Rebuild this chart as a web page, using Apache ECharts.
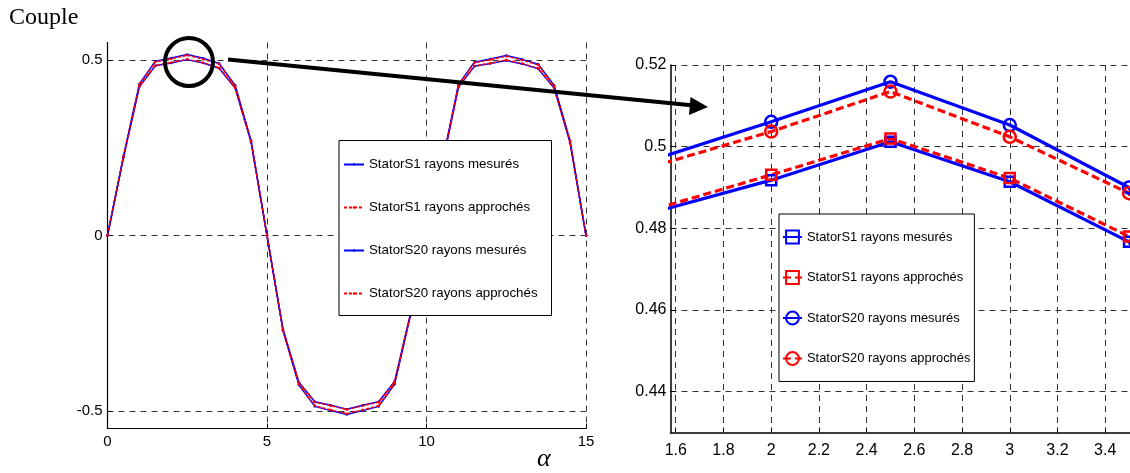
<!DOCTYPE html>
<html><head><meta charset="utf-8">
<script src="https://cdn.jsdelivr.net/npm/echarts@6/dist/echarts.min.js"></script>
<style>html,body{margin:0;padding:0;background:#fff}#c{width:1130px;height:473px}</style>
</head><body><div id="c"></div>
<script>
const alpha = [0,0.5,1,1.5,2,2.5,3,3.5,4,4.5,5,5.5,6,6.5,7,7.5,8,8.5,9,9.5,10,10.5,11,11.5,12,12.5,13,13.5,14,14.5,15];
const seriesNames = ['StatorS1 rayons mesurés','StatorS1 rayons approchés','StatorS20 rayons mesurés','StatorS20 rayons approchés'];
const s1Mesure = [0,0.222,0.424,0.4838,0.4918,0.5012,0.4914,0.4767,0.420,0.266,0,-0.266,-0.418,-0.474,-0.484,-0.495,-0.484,-0.474,-0.416,-0.222,0,0.205,0.422,0.482,0.490,0.499,0.489,0.475,0.420,0.265,0];
const s1Approche = [0,0.223,0.425,0.4845,0.4931,0.502,0.4923,0.478,0.421,0.267,0,-0.267,-0.419,-0.475,-0.485,-0.496,-0.485,-0.475,-0.417,-0.223,0,0.206,0.423,0.483,0.491,0.500,0.490,0.476,0.421,0.266,0];
const s20Mesure = [0,0.226,0.432,0.4967,0.5061,0.5159,0.5053,0.490,0.428,0.271,0,-0.271,-0.426,-0.487,-0.499,-0.510,-0.499,-0.487,-0.424,-0.226,0,0.209,0.430,0.494,0.503,0.513,0.502,0.488,0.428,0.270,0];
const s20Approche = [0,0.225,0.430,0.4951,0.5037,0.5135,0.5024,0.4886,0.426,0.270,0,-0.270,-0.424,-0.485,-0.497,-0.508,-0.497,-0.485,-0.422,-0.225,0,0.208,0.428,0.492,0.501,0.511,0.500,0.486,0.426,0.269,0];
const leftXTicks = [0,5,10,15];
const leftYTicks = [-0.5,0,0.5];
const rightXTicks = [1.6,1.8,2,2.2,2.4,2.6,2.8,3,3.2,3.4];
const rightYTicks = [0.44,0.46,0.48,0.5,0.52];

const allValues = [s1Mesure, s1Approche, s20Mesure, s20Approche];
const BLUE = '#0000ff', RED = '#ff0000';
const colors = [BLUE, RED, BLUE, RED];
const dashed = [false, true, false, true];
const rightSymbols = ['rect','rect','circle','circle'];
const SANS = "'Liberation Sans',Arial,sans-serif";
const pairs = v => alpha.map((a,i)=>[a, v[i]]);

const series = [];
allValues.forEach((v,i)=>{
  series.push({
    name: seriesNames[i], type:'line', xAxisIndex:0, yAxisIndex:0, data: pairs(v),
    symbol:'circle', symbolSize:2.5, showSymbol:true, animation:false,
    lineStyle:{color:colors[i], width:1.5, type: dashed[i]?[3,2]:'solid'},
    itemStyle:{color:colors[i]}
  });
});
allValues.forEach((v,i)=>{
  series.push({
    name: seriesNames[i]+' ', type:'line', xAxisIndex:1, yAxisIndex:1, data: pairs(v),
    symbol: rightSymbols[i], symbolSize: rightSymbols[i]==='rect'?10:12, showSymbol:true, animation:false, clip:true,
    lineStyle:{color:colors[i], width:3.2, type: dashed[i]?[8,4]:'solid'},
    itemStyle:{color:'rgba(255,255,255,0)', borderColor:colors[i], borderWidth:2.5}
  });
});

const grid = ()=>({show:true, lineStyle:{color:'#333', type:[6,5], width:1}});
const chart = echarts.init(document.getElementById('c'), null, {renderer:'canvas'});
chart.setOption({
  backgroundColor:'#fff',
  animation:false,
  title:[
    {text:'Couple', left:9, top:6, padding:0, textStyle:{fontFamily:"'Liberation Serif',serif", fontSize:24, fontWeight:'normal', color:'#000'}},
    {text:'α', left:537, top:446, padding:0, textStyle:{fontFamily:"'Liberation Serif',serif", fontStyle:'italic', fontSize:26, fontWeight:'normal', color:'#000'}}
  ],
  grid:[
    {left:107.5, top:42.5, width:478.5, height:386},
    {left:670.5, top:65, width:459.5, height:367.5}
  ],
  xAxis:[
    {type:'value', gridIndex:0, min:0, max:15, interval:5,
     axisLine:{onZero:false, lineStyle:{color:'#000', width:1.2}},
     axisTick:{inside:true, length:5, lineStyle:{color:'#000'}},
     axisLabel:{customValues:leftXTicks, color:'#000', fontFamily:SANS, fontSize:15, margin:6},
     splitLine:grid()},
    {type:'value', gridIndex:1, min:1.578, max:3.504,
     axisLine:{onZero:false, lineStyle:{color:'#000', width:1.5}},
     axisTick:{customValues:rightXTicks, inside:true, length:5, lineStyle:{color:'#000'}},
     axisLabel:{customValues:rightXTicks, color:'#000', fontFamily:SANS, fontSize:16, margin:10},
     splitLine:grid()}
  ],
  yAxis:[
    {type:'value', gridIndex:0, min:-0.55, max:0.55,
     axisLine:{show:true, onZero:false, lineStyle:{color:'#000', width:1.2}},
     axisTick:{show:true, customValues:leftYTicks, inside:true, length:5, lineStyle:{color:'#000'}},
     axisLabel:{customValues:leftYTicks, color:'#000', fontFamily:SANS, fontSize:15, margin:5},
     splitLine:grid()},
    {type:'value', gridIndex:1, min:0.43, max:0.52,
     axisLine:{show:true, onZero:false, lineStyle:{color:'#000', width:1.5}},
     axisTick:{show:true, customValues:rightYTicks, inside:true, length:5, lineStyle:{color:'#000'}},
     axisLabel:{customValues:rightYTicks, color:'#000', fontFamily:SANS, fontSize:16, margin:4},
     splitLine:grid()}
  ],
  legend:[
    {data:seriesNames, orient:'vertical', left:339, top:140.5,
     borderColor:'#000', borderWidth:1, backgroundColor:'#fff', borderRadius:0,
     padding:[16,14,14,4], itemGap:27, itemWidth:20, itemHeight:3,
     textStyle:{fontFamily:SANS, fontSize:13.3, color:'#000', lineHeight:16}},
    {data:seriesNames.map(n=>n+' '), orient:'vertical', left:779, top:214,
     formatter: n => n.trim(),
     borderColor:'#000', borderWidth:1, backgroundColor:'#fff', borderRadius:0,
     padding:[15,4,15,3], itemGap:24.5, itemWidth:19, itemHeight:16,
     textStyle:{fontFamily:SANS, fontSize:12.9, color:'#000', lineHeight:16}}
  ],
  series: series,
  graphic:[
    {type:'circle', shape:{cx:189, cy:62, r:24}, style:{fill:'none', stroke:'#000', lineWidth:4}, z:100},
    {type:'line', shape:{x1:228, y1:59.5, x2:694, y2:105.5}, style:{stroke:'#000', lineWidth:4}, z:100},
    {type:'polygon', shape:{points:[[708,107],[690.5,97],[689,115]]}, style:{fill:'#000'}, z:100}
  ]
});
</script></body></html>
